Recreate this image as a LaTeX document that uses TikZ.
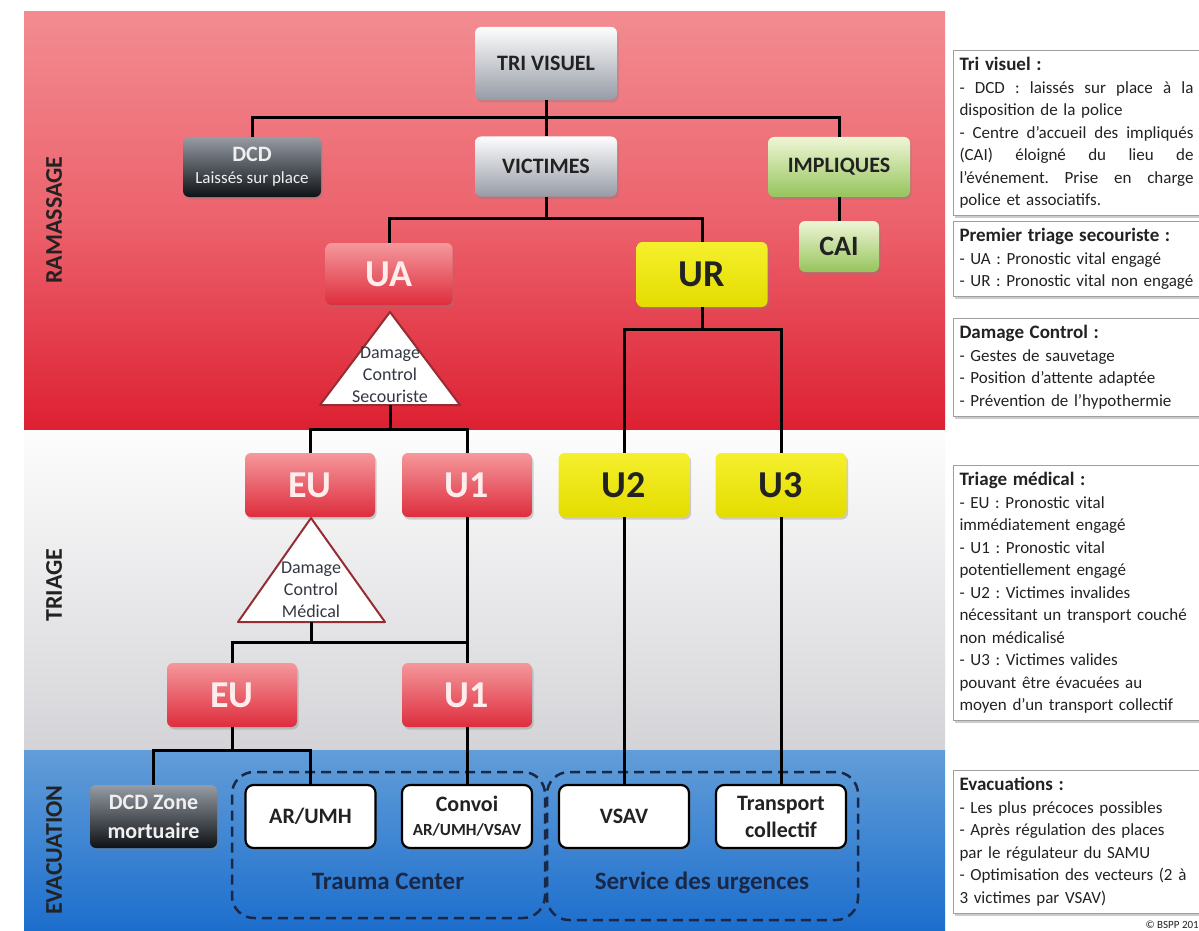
\documentclass[tikz,border=0pt]{standalone}
\usepackage{fontspec}
\setmainfont{Carlito}
\usepackage{tikz}
\usepackage{color}
\usetikzlibrary{shadows}
\frenchspacing

\definecolor{bandredtop}{RGB}{242,140,145}
\definecolor{bandredmid}{RGB}{236,98,108}
\definecolor{bandredbot}{RGB}{221,32,50}
\definecolor{bandgraytop}{RGB}{253,253,253}
\definecolor{bandgraybot}{RGB}{212,212,216}
\definecolor{bandbluetop}{RGB}{98,157,216}
\definecolor{bandbluebot}{RGB}{28,110,205}
\definecolor{navy}{RGB}{26,40,72}
\definecolor{boxredtop}{RGB}{244,152,156}
\definecolor{boxredbot}{RGB}{222,45,60}
\definecolor{boxyeltop}{RGB}{245,240,45}
\definecolor{boxyelbot}{RGB}{228,220,0}
\definecolor{boxgreentop}{RGB}{238,246,214}
\definecolor{boxgreenbot}{RGB}{150,196,92}
\definecolor{boxgraytop}{RGB}{253,253,253}
\definecolor{boxgraybot}{RGB}{150,156,166}
\definecolor{boxdarktop}{RGB}{150,156,164}
\definecolor{boxdarkbot}{RGB}{14,18,22}
\definecolor{txt}{RGB}{34,34,34}
\definecolor{tritxt}{RGB}{52,56,66}
\definecolor{triline}{RGB}{150,45,50}

\newcommand{\sizeU}{\fontsize{38}{40}\selectfont}
\newcommand{\sizeM}{\fontsize{22}{26}\selectfont}
\newcommand{\sizeS}{\fontsize{17}{20}\selectfont}
\newcommand{\sizeT}{\fontsize{17}{22.5}\selectfont}
\newcommand{\sizeH}{\fontsize{19}{22.5}\selectfont}
\newcommand{\jline}[1]{\leavevmode\hbox to 234pt{\spaceskip=.23em plus 1fil\relax #1}}

\begin{document}
\begin{tikzpicture}[x=1pt, y=-1pt,
	base/.style={rounded corners=6pt, inner sep=0pt, align=center,
		drop shadow={shadow xshift=1.5pt, shadow yshift=-2.5pt, opacity=.35}},
	graybox/.style={base, top color=boxgraytop, bottom color=boxgraybot, text=txt,
		font=\sizeM\bfseries, minimum width=142pt, minimum height=60pt},
	darkbox/.style={base, top color=boxdarktop, bottom color=boxdarkbot, text=white!88!gray,
		font=\sizeM\bfseries, minimum width=138pt, minimum height=60pt},
	greenbox/.style={base, top color=boxgreentop, bottom color=boxgreenbot, text=txt,
		font=\sizeM\bfseries, minimum width=142pt, minimum height=60pt},
	redbox/.style={base, top color=boxredtop, bottom color=boxredbot, text=white!93!red,
		font=\sizeU\bfseries, minimum width=130pt, minimum height=64pt},
	yelbox/.style={base, top color=boxyeltop, bottom color=boxyelbot, text=txt,
		font=\sizeU\bfseries, minimum width=131pt, minimum height=64pt},
	whitebox/.style={base, rounded corners=8pt, fill=white, draw=black, line width=2.2pt, text=txt,
		font=\fontsize{22}{27}\selectfont\bfseries, minimum width=130pt, minimum height=63pt},
	tribox/.style={fill=white, draw=triline, line width=2pt, line join=round},
	trilbl/.style={font=\fontsize{18}{22}\selectfont, text=tritxt, align=center, inner sep=0pt},
	link/.style={line width=3pt, black},
	groupbox/.style={draw=navy, line width=2.5pt, dash pattern=on 10pt off 6pt, rounded corners=22pt},
	grouplbl/.style={font=\fontsize{25}{28}\selectfont\bfseries, text=navy},
	bandlbl/.style={rotate=90, font=\fontsize{24}{26}\selectfont\bfseries, text=txt},
	infobox/.style={anchor=north west, draw=gray!75, line width=1pt, fill=white, text width=234pt,
		inner xsep=6pt, inner ysep=7pt, align=left, font=\sizeT, text=txt,
		drop shadow={shadow xshift=1pt, shadow yshift=-2.5pt, opacity=.4}}]

	\useasboundingbox (0,0) rectangle (1199,931);
	\fill[white] (0,0) rectangle (1199,931);

	\shade[top color=bandredtop, bottom color=bandredbot, middle color=bandredmid] (24,12) rectangle (945,430);
	\shade[top color=bandgraytop, bottom color=bandgraybot] (24,430) rectangle (945,750);
	\shade[top color=bandbluetop, bottom color=bandbluebot] (24,750) rectangle (945,931);

	\node[bandlbl] (lramass) at (54,220) {RAMASSAGE};
	\node[bandlbl] (ltriage) at (54,585) {TRIAGE};
	\node[bandlbl] (levac) at (54,850) {EVACUATION};

	\node[groupbox, minimum width=313pt, minimum height=146pt] (tcbox) at (388.5,845) {};
	\node[groupbox, minimum width=311pt, minimum height=148pt] (sdubox) at (702.5,846) {};
	\node[grouplbl] (tclbl) at (388,881) {Trauma Center};
	\node[grouplbl] (sdulbl) at (702,883) {Service des urgences};

	\node[graybox, minimum height=73pt] (trivis) at (546,63.5) {TRI VISUEL};
	\node[graybox] (victimes) at (546,166.5) {VICTIMES};
	\node[darkbox] (dcd) at (252,167) {DCD\\[-4pt]{\sizeS\mdseries Laissés sur place}};
	\node[greenbox] (impl) at (839,167) {IMPLIQUES};
	\node[greenbox, minimum width=80pt, minimum height=51pt, font=\fontsize{28}{30}\selectfont\bfseries] (cai) at (839,246.5) {CAI};
	\node[redbox, minimum width=127pt, minimum height=62pt] (ua) at (389,274) {UA};
	\node[yelbox, minimum height=65pt] (ur) at (702,274.5) {UR};

	\draw[tribox] (390,312) -- (460,405) -- (320,405) -- cycle;
	\node[trilbl] (dcslbl) at (390,375) {Damage\\Control\\Secouriste};
	\coordinate (dcsbase) at (390,405);

	\node[redbox] (eu) at (310,485) {EU};
	\node[redbox] (u1) at (467,485) {U1};
	\node[yelbox] (u2) at (624,485) {U2};
	\node[yelbox] (u3) at (781,485) {U3};

	\draw[tribox] (311,518) -- (385,622) -- (238,622) -- cycle;
	\node[trilbl] (dcmlbl) at (311,590) {Damage\\Control\\Médical};
	\coordinate (dcmbase) at (311,622);

	\node[redbox] (eub) at (232,695) {EU};
	\node[redbox] (u1b) at (467,695) {U1};

	\node[darkbox, minimum width=127pt, minimum height=63pt, font=\fontsize{22}{29}\selectfont\bfseries] (dcdz) at (153.5,816.5) {DCD Zone\\mortuaire};
	\node[whitebox] (arumh) at (310.5,816.5) {AR/UMH};
	\node[whitebox] (convoi) at (467,816.5) {Convoi\\[-3pt]{\sizeS AR/UMH/VSAV}};
	\node[whitebox] (vsav) at (624,816.5) {VSAV};
	\node[whitebox] (transp) at (781,816.5) {Transport\\collectif};

	\coordinate (h1) at (546,118);
	\coordinate (h2) at (546,218);
	\coordinate (h3) at (702,329);
	\coordinate (h4) at (390,429);
	\coordinate (h5) at (311,642);
	\coordinate (h6) at (232,750);

	\draw[link] (trivis) -- (victimes);
	\draw[link] (dcd.north) |- (h1) -| (impl.north);
	\draw[link] (impl) -- (cai);
	\draw[link] (victimes) -- (h2);
	\draw[link] (ua.north) |- (h2) -| (ur.north);
	\draw[link] (ur) -- (h3);
	\draw[link] (u2.north) |- (h3) -| (u3.north);
	\draw[link] (dcsbase) -- (h4);
	\draw[link] (eu.north) |- (h4) -| (u1.north);
	\draw[link] (dcmbase) -- (h5);
	\draw[link] (eub.north) |- (h5) -- (h5 -| u1.south);
	\draw[link] (u1) -- (u1b);
	\draw[link] (eub) -- (h6);
	\draw[link] (dcdz.north) |- (h6) -| (arumh.north);
	\draw[link] (u1b) -- (convoi);
	\draw[link] (u2) -- (vsav);
	\draw[link] (u3) -- (transp);

	\node[infobox] (itri) at (953,50) {{\sizeH\bfseries Tri visuel :}\\
		\jline{- DCD : laissés sur place à la}\\
		disposition de la police\\
		\jline{- Centre d’accueil des impliqués}\\
		\jline{(CAI) éloigné du lieu de}\\
		\jline{l’événement. Prise en charge}\\
		police et associatifs.};
	\node[infobox] (iprem) at (953,221) {{\sizeH\bfseries Premier triage secouriste :}\\
		- UA : Pronostic vital engagé\\
		- UR : Pronostic vital non engagé};
	\node[infobox] (idamage) at (953,318) {{\sizeH\bfseries Damage Control :}\\
		- Gestes de sauvetage\\
		- Position d’attente adaptée\\
		- Prévention de l’hypothermie};
	\node[infobox] (imed) at (953,465) {{\sizeH\bfseries Triage médical :}\\
		- EU : Pronostic vital\\
		immédiatement engagé\\
		- U1 : Pronostic vital\\
		potentiellement engagé\\
		- U2 : Victimes invalides\\
		nécessitant un transport couché\\
		non médicalisé\\
		- U3 : Victimes valides\\
		pouvant être évacuées au\\
		moyen d’un transport collectif};
	\node[infobox] (ievac) at (953,770) {{\sizeH\bfseries Evacuations :}\\
		- Les plus précoces possibles\\
		- Après régulation des places\\
		par le régulateur du SAMU\\
		- Optimisation des vecteurs (2 à\\
		3 victimes par VSAV)};
	\node[anchor=east, inner sep=0pt, font=\fontsize{11}{12}\selectfont, text=txt] (copyr) at (1199,925) {© BSPP 201};

\end{tikzpicture}
\end{document}
